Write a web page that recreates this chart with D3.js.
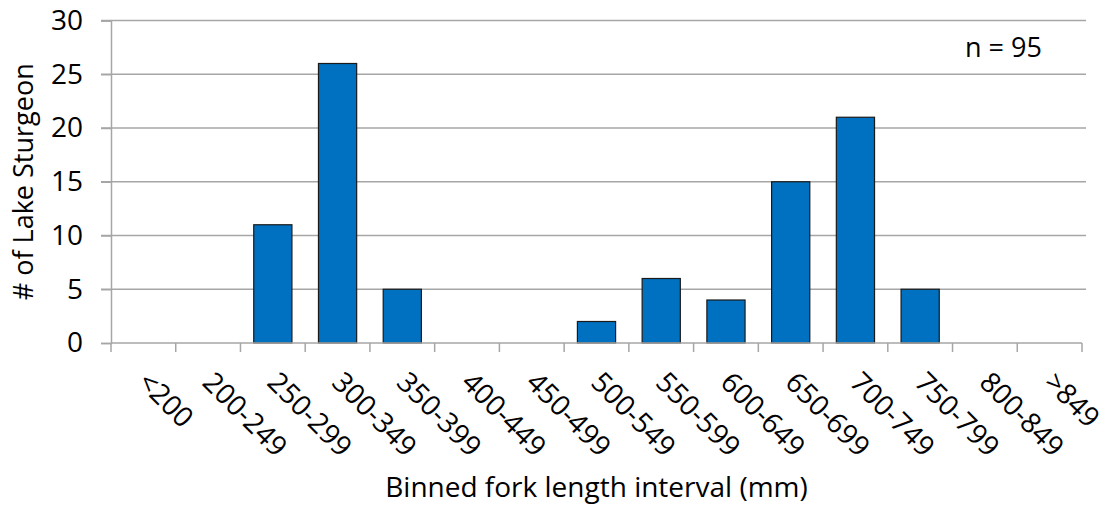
<!DOCTYPE html>
<html>
<head>
<meta charset="utf-8">
<script src="https://cdn.jsdelivr.net/npm/d3@7"></script>
<style>
  body { margin: 0; background: #fff; }
  text { font-family: "Open Sans", "Noto Sans", sans-serif; fill: #000; }
</style>
</head>
<body>
<div id="vis"></div>
<script>
// data
const bins = ["<200", "200-249", "250-299", "300-349", "350-399", "400-449", "450-499",
  "500-549", "550-599", "600-649", "650-699", "700-749", "750-799", "800-849", ">849"];
const counts = [0, 0, 11, 26, 5, 0, 0, 2, 6, 4, 15, 21, 5, 0, 0];
const yTicks = [0, 5, 10, 15, 20, 25, 30];
const note = "n = 95";

const W = 1109, H = 518;
const M = { left: 111, right: 1109 - 1082, top: 20.5, bottom: 518 - 343 };
const BAR_COLOR = "#0070C0";
const GRID_COLOR = "#A6A6A6";

const svg = d3.select("#vis").append("svg")
  .attr("width", W).attr("height", H);

const x = d3.scaleBand()
  .domain(bins)
  .range([M.left, W - M.right])
  .paddingInner(0.41)
  .paddingOuter(0.205);

const y = d3.scaleLinear()
  .domain([0, 30])
  .range([H - M.bottom, M.top]);

// gridlines (with the little tick stubs to the left of the axis)
svg.append("g")
  .selectAll("line")
  .data(yTicks.filter((d) => d > 0))
  .join("line")
  .attr("x1", M.left - 10)
  .attr("x2", W - M.right + 4)
  .attr("y1", (d) => y(d))
  .attr("y2", (d) => y(d))
  .attr("stroke", GRID_COLOR)
  .attr("stroke-width", 1.5);

// y axis
const yAxis = svg.append("g")
  .attr("transform", "translate(" + M.left + ",0)")
  .call(d3.axisLeft(y).tickValues(yTicks).tickSize(10).tickPadding(18));
yAxis.select(".domain").attr("stroke", GRID_COLOR).attr("stroke-width", 1.5);
yAxis.selectAll(".tick line").attr("stroke", GRID_COLOR).attr("stroke-width", 1.5);
yAxis.selectAll(".tick text")
  .attr("font-size", 28)
  .attr("font-family", "'Open Sans', sans-serif");

// bars
svg.append("g")
  .selectAll("rect")
  .data(counts.map((c, i) => ({ bin: bins[i], count: c })).filter((d) => d.count > 0))
  .join("rect")
  .attr("x", (d) => x(d.bin))
  .attr("y", (d) => y(d.count))
  .attr("width", x.bandwidth())
  .attr("height", (d) => y(0) - y(d.count))
  .attr("fill", BAR_COLOR)
  .attr("stroke", "#1a1a1a")
  .attr("stroke-width", 1.2);

// x axis: ticks at band boundaries
const boundaries = d3.range(bins.length + 1).map((i) => M.left + i * (W - M.right - M.left) / bins.length);
const xg = svg.append("g");
xg.append("line")
  .attr("x1", M.left).attr("x2", W - M.right)
  .attr("y1", y(0)).attr("y2", y(0))
  .attr("stroke", GRID_COLOR).attr("stroke-width", 1.5);
xg.selectAll("line.tk")
  .data(boundaries)
  .join("line")
  .attr("class", "tk")
  .attr("x1", (d) => d).attr("x2", (d) => d)
  .attr("y1", y(0)).attr("y2", y(0) + 9)
  .attr("stroke", GRID_COLOR).attr("stroke-width", 1.5);

// rotated category labels
xg.selectAll("text")
  .data(bins)
  .join("text")
  .attr("transform", (d) => "translate(" + (x(d) + x.bandwidth() / 2 - 7) + "," + (y(0) + 41) + ") rotate(45)")
  .attr("text-anchor", "start")
  .attr("font-size", 28)
  .text((d) => d);

// axis titles
svg.append("text")
  .attr("transform", "translate(33," + ((M.top + y(0)) / 2) + ") rotate(-90)")
  .attr("text-anchor", "middle")
  .attr("font-size", 27)
  .text("# of Lake Sturgeon");

svg.append("text")
  .attr("x", (M.left + W - M.right) / 2)
  .attr("y", 497)
  .attr("text-anchor", "middle")
  .attr("font-size", 28)
  .text("Binned fork length interval (mm)");

svg.append("text")
  .attr("x", 965)
  .attr("y", 57)
  .attr("font-size", 27)
  .text(note);
</script>
</body>
</html>
